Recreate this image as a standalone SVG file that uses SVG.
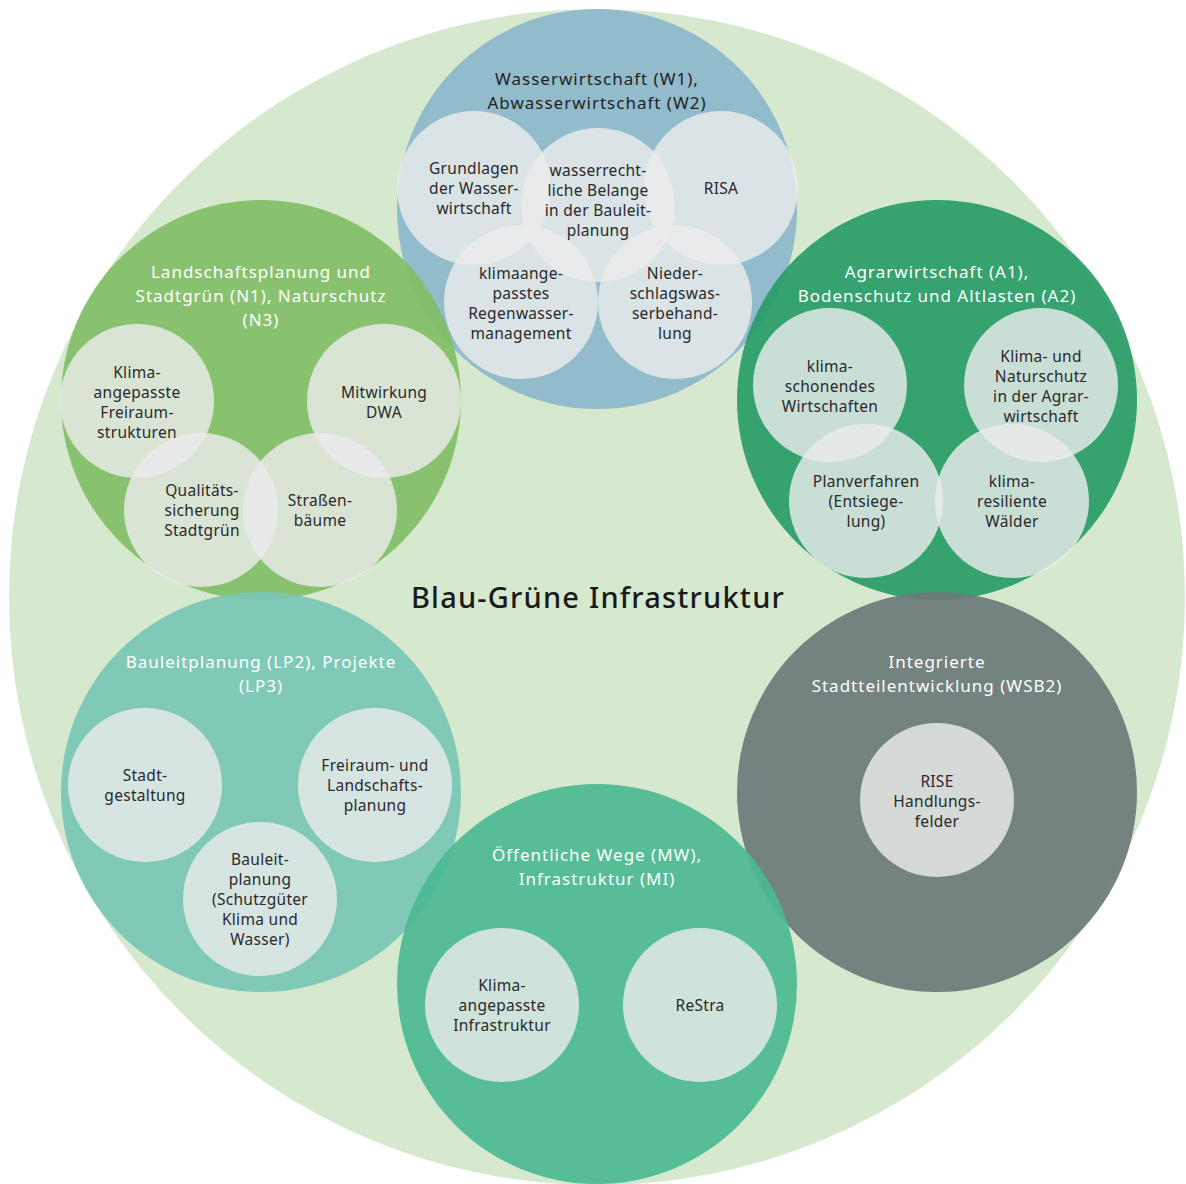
<svg xmlns="http://www.w3.org/2000/svg" width="1186" height="1184" viewBox="0 0 1186 1184">
  <style>
    .bg { fill: #d6e9cf; }
    .grp { fill-opacity: 0.92; }
    .sub { fill: #eaeceb; fill-opacity: 0.82; }
    text { font-family: "Noto Sans", "Open Sans", "Liberation Sans", sans-serif; text-anchor: middle; }
    .t-dark { fill: #222; font-size: 17px; letter-spacing: 1px; }
    .t-light { fill: #ffffff; font-size: 17px; letter-spacing: 1px; }
    .t-sub { fill: #2a2a2a; font-size: 15.5px; letter-spacing: 0.3px; }
    .t-main { fill: #1a1a1a; font-size: 29px; font-weight: 500; letter-spacing: 1.2px; }
  </style>

  <!-- outer field -->
  <circle class="bg" cx="597" cy="597" r="588"/>

  <!-- Wasserwirtschaft -->
  <g id="wasser">
    <circle class="grp" cx="597" cy="209" r="200" fill="#8cb6cb"/>
    <text class="t-dark" x="597" y="85">Wasserwirtschaft (W1),</text>
    <text class="t-dark" x="597" y="109">Abwasserwirtschaft (W2)</text>
    <circle class="sub" cx="474" cy="188" r="77"/>
    <circle class="sub" cx="598" cy="205" r="77"/>
    <circle class="sub" cx="721" cy="188" r="77"/>
    <circle class="sub" cx="521" cy="302" r="77"/>
    <circle class="sub" cx="675" cy="302" r="77"/>
    <text class="t-sub" x="474" y="174">Grundlagen</text>
    <text class="t-sub" x="474" y="194">der Wasser-</text>
    <text class="t-sub" x="474" y="214">wirtschaft</text>
    <text class="t-sub" x="598" y="176">wasserrecht-</text>
    <text class="t-sub" x="598" y="196">liche Belange</text>
    <text class="t-sub" x="598" y="216">in der Bauleit-</text>
    <text class="t-sub" x="598" y="236">planung</text>
    <text class="t-sub" x="721" y="194">RISA</text>
    <text class="t-sub" x="521" y="279">klimaange-</text>
    <text class="t-sub" x="521" y="299">passtes</text>
    <text class="t-sub" x="521" y="319">Regenwasser-</text>
    <text class="t-sub" x="521" y="339">management</text>
    <text class="t-sub" x="675" y="279">Nieder-</text>
    <text class="t-sub" x="675" y="299">schlagswas-</text>
    <text class="t-sub" x="675" y="319">serbehand-</text>
    <text class="t-sub" x="675" y="339">lung</text>
  </g>

  <!-- Landschaftsplanung / Naturschutz -->
  <g id="landschaft">
    <circle class="grp" cx="261" cy="400" r="200" fill="#82be67"/>
    <text class="t-light" x="261" y="278">Landschaftsplanung und</text>
    <text class="t-light" x="261" y="302">Stadtgrün (N1), Naturschutz</text>
    <text class="t-light" x="261" y="326">(N3)</text>
    <circle class="sub" cx="137" cy="401" r="77"/>
    <circle class="sub" cx="384" cy="401" r="77"/>
    <circle class="sub" cx="201" cy="510" r="77"/>
    <circle class="sub" cx="320" cy="510" r="77"/>
    <text class="t-sub" x="137" y="378">Klima-</text>
    <text class="t-sub" x="137" y="398">angepasste</text>
    <text class="t-sub" x="137" y="418">Freiraum-</text>
    <text class="t-sub" x="137" y="438">strukturen</text>
    <text class="t-sub" x="384" y="398">Mitwirkung</text>
    <text class="t-sub" x="384" y="418">DWA</text>
    <text class="t-sub" x="202" y="496">Qualitäts-</text>
    <text class="t-sub" x="202" y="516">sicherung</text>
    <text class="t-sub" x="202" y="536">Stadtgrün</text>
    <text class="t-sub" x="320" y="506">Straßen-</text>
    <text class="t-sub" x="320" y="526">bäume</text>
  </g>

  <!-- Agrarwirtschaft / Bodenschutz -->
  <g id="agrar">
    <circle class="grp" cx="937" cy="400" r="200" fill="#289b67"/>
    <text class="t-light" x="937" y="278">Agrarwirtschaft (A1),</text>
    <text class="t-light" x="937" y="302">Bodenschutz und Altlasten (A2)</text>
    <circle class="sub" cx="830" cy="385" r="77"/>
    <circle class="sub" cx="1041" cy="385" r="77"/>
    <circle class="sub" cx="866" cy="501" r="77"/>
    <circle class="sub" cx="1012" cy="501" r="77"/>
    <text class="t-sub" x="830" y="372">klima-</text>
    <text class="t-sub" x="830" y="392">schonendes</text>
    <text class="t-sub" x="830" y="412">Wirtschaften</text>
    <text class="t-sub" x="1041" y="362">Klima- und</text>
    <text class="t-sub" x="1041" y="382">Naturschutz</text>
    <text class="t-sub" x="1041" y="402">in der Agrar-</text>
    <text class="t-sub" x="1041" y="422">wirtschaft</text>
    <text class="t-sub" x="866" y="487">Planverfahren</text>
    <text class="t-sub" x="866" y="507">(Entsiege-</text>
    <text class="t-sub" x="866" y="527">lung)</text>
    <text class="t-sub" x="1012" y="487">klima-</text>
    <text class="t-sub" x="1012" y="507">resiliente</text>
    <text class="t-sub" x="1012" y="527">Wälder</text>
  </g>

  <!-- Bauleitplanung / Projekte -->
  <g id="bauleit">
    <circle class="grp" cx="261" cy="792" r="200" fill="#7ac5b5"/>
    <text class="t-light" x="261" y="668">Bauleitplanung (LP2), Projekte</text>
    <text class="t-light" x="261" y="692">(LP3)</text>
    <circle class="sub" cx="145" cy="785" r="77"/>
    <circle class="sub" cx="375" cy="785" r="77"/>
    <circle class="sub" cx="260" cy="899" r="77"/>
    <text class="t-sub" x="145" y="781">Stadt-</text>
    <text class="t-sub" x="145" y="801">gestaltung</text>
    <text class="t-sub" x="375" y="771">Freiraum- und</text>
    <text class="t-sub" x="375" y="791">Landschafts-</text>
    <text class="t-sub" x="375" y="811">planung</text>
    <text class="t-sub" x="260" y="865">Bauleit-</text>
    <text class="t-sub" x="260" y="885">planung</text>
    <text class="t-sub" x="260" y="905">(Schutzgüter</text>
    <text class="t-sub" x="260" y="925">Klima und</text>
    <text class="t-sub" x="260" y="945">Wasser)</text>
  </g>

  <!-- Integrierte Stadtteilentwicklung -->
  <g id="stadtteil">
    <circle class="grp" cx="937" cy="792" r="200" fill="#6b7978"/>
    <text class="t-light" x="937" y="668">Integrierte</text>
    <text class="t-light" x="937" y="692">Stadtteilentwicklung (WSB2)</text>
    <circle class="sub" cx="937" cy="800" r="77"/>
    <text class="t-sub" x="937" y="787">RISE</text>
    <text class="t-sub" x="937" y="807">Handlungs-</text>
    <text class="t-sub" x="937" y="827">felder</text>
  </g>

  <!-- Öffentliche Wege / Infrastruktur -->
  <g id="wege">
    <circle class="grp" cx="597" cy="984" r="200" fill="#4bb993"/>
    <text class="t-light" x="597" y="861">Öffentliche Wege (MW),</text>
    <text class="t-light" x="597" y="885">Infrastruktur (MI)</text>
    <circle class="sub" cx="502" cy="1005" r="77"/>
    <circle class="sub" cx="700" cy="1005" r="77"/>
    <text class="t-sub" x="502" y="991">Klima-</text>
    <text class="t-sub" x="502" y="1011">angepasste</text>
    <text class="t-sub" x="502" y="1031">Infrastruktur</text>
    <text class="t-sub" x="700" y="1011">ReStra</text>
  </g>

  <!-- centre label -->
  <g id="title">
    <text class="t-main" x="598" y="608">Blau-Grüne Infrastruktur</text>
  </g>
</svg>
